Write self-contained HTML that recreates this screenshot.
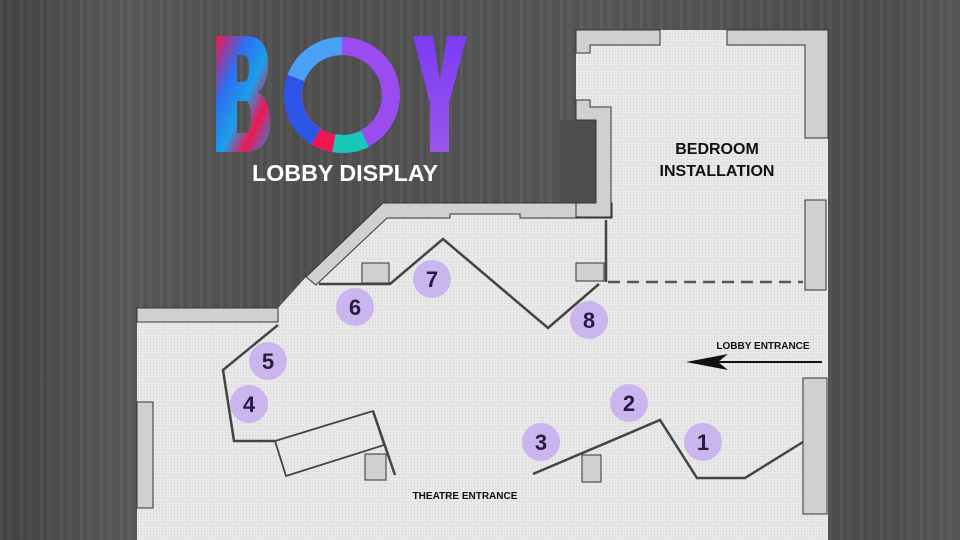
<!DOCTYPE html>
<html><head><meta charset="utf-8"><style>
html,body{margin:0;padding:0;width:960px;height:540px;overflow:hidden}
body{background:#555;background-image:repeating-linear-gradient(90deg,rgba(255,255,255,0.04) 0 3px,rgba(0,0,0,0.05) 3px 7px,rgba(255,255,255,0.02) 7px 12px,rgba(0,0,0,0.04) 12px 20px),linear-gradient(90deg,#444 0,#5a5a5a 120px,#505050 300px,#585858 600px,#4e4e4e 880px,#5a5a5a 960px)}
svg{position:absolute;left:0;top:0}
</style></head><body>
<svg width="960" height="540" viewBox="0 0 960 540" xmlns="http://www.w3.org/2000/svg">
<defs>
<pattern id="dots" width="3" height="3" patternUnits="userSpaceOnUse"><rect width="3" height="3" fill="#e8e8e8"/><rect width="1" height="1" fill="#d2d2d2"/></pattern>
<linearGradient id="gB" x1="0" y1="0" x2="1" y2="1"><stop offset="0" stop-color="#f0164f"/><stop offset="0.3" stop-color="#2f6ef0"/><stop offset="0.55" stop-color="#1aa0ea"/><stop offset="0.75" stop-color="#f0164f"/><stop offset="1" stop-color="#1e8fe6"/></linearGradient>
<linearGradient id="gY" x1="0" y1="0" x2="0" y2="1"><stop offset="0" stop-color="#7a3cf5"/><stop offset="1" stop-color="#9b55ea"/></linearGradient>
</defs>
<!-- floor -->
<polygon fill="url(#dots)" points="137,308 278,308 306,277 383,203 611,203 611,217 592,217 576,100 576,30 828,30 828,540 137,540"/>
<rect x="560" y="120" width="36" height="83" fill="#4e4e4e"/>
<!-- walls -->
<g fill="#d0d0d0" stroke="#333" stroke-width="1">
<polygon points="383,203 612,203 612,218 520,218 520,214 450,214 450,218 387,218 316,285 306,277"/>
<rect x="137" y="308" width="141" height="14"/>
<rect x="137" y="402" width="16" height="106"/>
<polygon points="576,30 660,30 660,45 590,45 590,53 576,53"/>
<polygon points="727,30 828,30 828,138 805,138 805,45 727,45"/>
<rect x="805" y="200" width="21" height="90"/>
<polygon points="576,100 590,100 590,107 611,107 611,217 576,217 576,203 596,203 596,120 576,120"/>
<rect x="576" y="263" width="28" height="18"/>
<rect x="362" y="263" width="27" height="20"/>
<rect x="365" y="454" width="21" height="26"/>
<rect x="582" y="455" width="19" height="27"/>
<rect x="803" y="378" width="24" height="136"/>
</g>
<!-- partitions -->
<g fill="none" stroke="#444" stroke-width="2.5">
<polyline points="319,284 390,284 443,239 548,328 599,284"/>
<line x1="606" y1="220" x2="606" y2="282"/>
<polyline points="278,325 223,370 234,441 275,441"/>
<polygon points="275,441 373,411 384,445 286,476" stroke-width="1.8"/>
<line x1="373" y1="411" x2="395" y2="475"/>
<polyline points="533,474 660,420 697,478 745,478 803,442"/>
</g>
<line x1="608" y1="282" x2="803" y2="282" stroke="#555" stroke-width="2.5" stroke-dasharray="12,7"/>
<!-- arrow -->
<line x1="822" y1="362" x2="700" y2="362" stroke="#111" stroke-width="2"/>
<polygon points="686,362 728,354 718,362 728,370" fill="#111"/>
<!-- labels -->
<g font-family="Liberation Sans, sans-serif" font-weight="bold" fill="#111" text-anchor="middle">
<text x="717" y="154" font-size="16">BEDROOM</text>
<text x="717" y="176" font-size="16">INSTALLATION</text>
<text x="763" y="349" font-size="10">LOBBY ENTRANCE</text>
<text x="465" y="499" font-size="10">THEATRE ENTRANCE</text>
</g>
<!-- circles -->
<g font-family="Liberation Sans, sans-serif" font-weight="bold" font-size="22" text-anchor="middle">
<g fill="#cbb5ee"><circle cx="703" cy="442" r="19"/><circle cx="629" cy="403" r="19"/><circle cx="541" cy="442" r="19"/><circle cx="249" cy="404" r="19"/><circle cx="268" cy="361" r="19"/><circle cx="355" cy="307" r="19"/><circle cx="432" cy="279" r="19"/><circle cx="589" cy="320" r="19"/></g>
<g fill="#2a1a40"><text x="703" y="450">1</text><text x="629" y="411">2</text><text x="541" y="450">3</text><text x="249" y="412">4</text><text x="268" y="369">5</text><text x="355" y="315">6</text><text x="432" y="287">7</text><text x="589" y="328">8</text></g>
</g>
<!-- logo -->
<path fill="url(#gB)" fill-rule="evenodd" d="M216,36 H246 Q268,36 268,64 Q268,84 258,92 Q270,100 270,122 Q270,152 244,152 H216 Z M237,55 H243 Q249,55 249,68 Q249,82 243,82 H237 Z M237,101 H245 Q251,101 251,117 Q251,133 245,133 H237 Z"/>
<g fill="none" stroke-width="18">
<circle cx="342" cy="95" r="49" stroke="#9a4cf0"/>
<path d="M342 46 A49 49 0 0 0 296 78" stroke="#4aa0f5"/>
<path d="M296 78 A49 49 0 0 0 316 137" stroke="#2d55e8"/>
<path d="M316 137 A49 49 0 0 0 334 143" stroke="#f0164f"/>
<path d="M334 143 A49 49 0 0 0 365 139" stroke="#19c6b8"/>
</g>
<polygon fill="url(#gY)" points="413,36 433,36 440,80 447,36 467,36 449,103 449,152 430,152 430,103"/>
<text x="345" y="181" text-anchor="middle" font-family="Liberation Sans, sans-serif" font-weight="bold" font-size="23" fill="#fff" textLength="186" lengthAdjust="spacingAndGlyphs">LOBBY DISPLAY</text>
</svg>
</body></html>
